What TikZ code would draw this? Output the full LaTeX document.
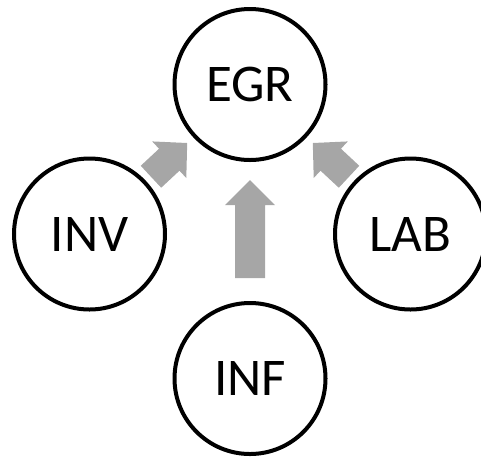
\documentclass[tikz,border=0pt]{standalone}
\usepackage{fontspec}
\setmainfont{Carlito}
\usetikzlibrary{calc}
\definecolor{arrowgray}{HTML}{A6A6A6}
\tikzset{
  factor/.style={circle, draw=black, line width=4pt, minimum size=151pt,
    inner sep=0pt, font=\fontsize{53}{60}\selectfont},
  blockfill/.style={fill=arrowgray, draw=none}
}
% Block arrow lying on the line between two node centres:
% #1 source, #2 target, #3 tail distance, #4 head-base distance, #5 tip distance
\newcommand\blockarrow[5]{%
  \path ($(#1)!#3pt!(#2)$) coordinate (ba-t)
        ($(#1)!#4pt!(#2)$) coordinate (ba-h)
        ($(#1)!#5pt!(#2)$) coordinate (ba-p);
  \fill[blockfill]
    ($(ba-t)!15pt!90:(ba-p)$) -- ($(ba-h)!15pt!90:(ba-p)$) --
    ($(ba-h)!25pt!90:(ba-p)$) -- (ba-p) --
    ($(ba-h)!25pt!-90:(ba-p)$) -- ($(ba-h)!15pt!-90:(ba-p)$) --
    ($(ba-t)!15pt!-90:(ba-p)$) -- cycle;
}
\begin{document}
\begin{tikzpicture}[x=1pt,y=-1pt]
  \useasboundingbox (0,0) rectangle (481,459);
  \node[factor] (egr) at (250,84.5) {EGR};
  \node[factor] (inv) at (89.5,234) {INV};
  \node[factor] (lab) at (410.5,234) {LAB};
  \node[factor] (inf) at (250,378.5) {INF};
  \blockarrow{inv}{egr}{84}{109}{133.5}
  \blockarrow{lab}{egr}{84}{109}{133.5}
  \blockarrow{inf}{egr}{100.5}{173.5}{198.5}
\end{tikzpicture}
\end{document}
